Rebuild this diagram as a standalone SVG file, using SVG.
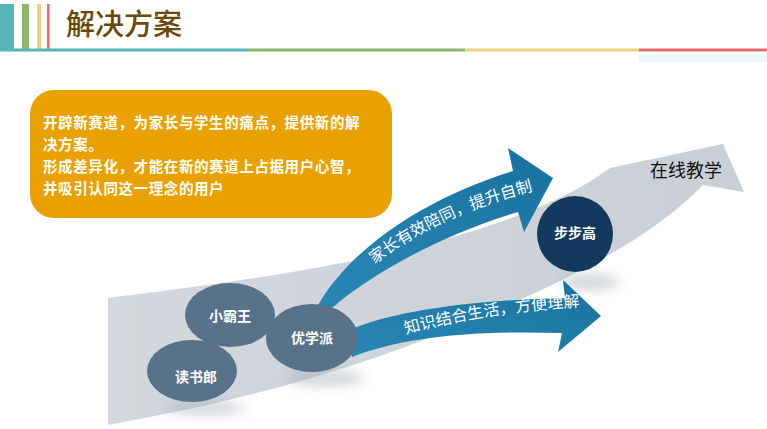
<svg xmlns="http://www.w3.org/2000/svg" width="767" height="429" viewBox="0 0 767 429">
<defs>
<style>
.cjk{font-family:"Noto Sans CJK SC","Noto Sans",sans-serif;}
.lbl{font-family:"Noto Sans CJK SC",sans-serif;font-size:14px;fill:#ffffff;font-weight:bold;text-anchor:middle;}
.box{font-family:"Noto Sans CJK SC",sans-serif;font-size:14.5px;fill:#ffffff;font-weight:bold;letter-spacing:0.6px;}
.atxt{font-family:"Noto Sans CJK SC",sans-serif;font-size:16px;fill:#ffffff;}
.node{fill:#587389;}
</style>
<linearGradient id="gband" x1="0" y1="0" x2="1" y2="0">
<stop offset="0" stop-color="#d3d8dd"/>
<stop offset="1" stop-color="#c9cfd6"/>
</linearGradient>
<linearGradient id="gblue" x1="0" y1="1" x2="1" y2="0">
<stop offset="0" stop-color="#2a87b4"/>
<stop offset="1" stop-color="#1872a0"/>
</linearGradient>
<filter id="blur" x="-50%" y="-50%" width="200%" height="200%">
<feGaussianBlur stdDeviation="6"/>
</filter>
<path id="tp1" d="M374,264 C 418,232 462,208 545,188"/>
<path id="tp2" d="M406,334 C 460,319 520,310 590,306"/>
</defs>
<rect width="767" height="429" fill="#ffffff"/>
<g id="header">
<rect x="0" y="4" width="14" height="46" fill="#58b4b7"/>
<rect x="22" y="4" width="7" height="46" fill="#8bb86a"/>
<rect x="37" y="4" width="4" height="46" fill="#f1cf7c"/>
<rect x="47" y="4" width="2.5" height="46" fill="#e86a6b"/>
<rect x="0" y="48.5" width="247" height="3" fill="#58b4b7"/>
<rect x="247" y="48.5" width="218" height="3" fill="#8bb86a"/>
<rect x="465" y="48.5" width="174" height="3" fill="#f1cf7c"/>
<rect x="639" y="48.5" width="128" height="3" fill="#e86a6b"/>
<rect x="639" y="55" width="128" height="7" fill="#eaf8f8"/>
<text x="66" y="35" class="cjk" font-size="29" font-weight="500" fill="#6b4806">解决方案</text>
</g>
<g id="summary">
<rect x="30" y="90" width="362" height="128" rx="24" fill="#e9a100"/>
<text class="box" x="43" y="128">开辟新赛道，为家长与学生的痛点，提供新的解</text>
<text class="box" x="43" y="150">决方案。</text>
<text class="box" x="43" y="172">形成差异化，才能在新的赛道上占据用户心智，</text>
<text class="box" x="43" y="194">并吸引认同这一理念的用户</text>
</g>
<g id="trend">
<path d="M108,298 C 250,280 500,250 610,168 L 723,144 L 744,192 L 703,185 C 650,240 560,285 450,330 C 330,378 220,405 108,425 Z" fill="url(#gband)"/>
<text x="650" y="177" class="cjk" font-size="18" fill="#111111">在线教学</text>
</g>
<g id="shadows" fill="#9aa3ad" opacity="0.45" filter="url(#blur)">
<ellipse cx="590" cy="282" rx="30" ry="8"/>
<ellipse cx="325" cy="378" rx="40" ry="8"/>
<ellipse cx="205" cy="408" rx="40" ry="7"/>
</g>
<g id="connectors">
<path d="M318,305 C 350,250 420,200 513,171 L 508,148 L 553,178 L 524,232 L 518,212 C 440,235 370,275 332,308 Z" fill="url(#gblue)"/>
<path d="M350,330 C 390,312 470,300 565,298 L 563,280 L 601,316 L 558,352 L 562,333 C 470,330 400,338 352,357 Z" fill="url(#gblue)"/>
<text class="atxt"><textPath href="#tp1">家长有效陪同，提升自制</textPath></text>
<text class="atxt" font-size="15.5"><textPath href="#tp2">知识结合生活，方便理解</textPath></text>
</g>
<g id="n-xiaobawang">
<ellipse class="node" cx="230" cy="315" rx="45" ry="32"/>
<text class="lbl" x="230" y="321">小霸王</text>
</g>
<g id="n-dushulang">
<ellipse class="node" cx="192" cy="371" rx="45" ry="31"/>
<text class="lbl" x="196" y="382">读书郎</text>
</g>
<g id="n-youxuepai">
<ellipse class="node" cx="312" cy="338" rx="46" ry="34"/>
<text class="lbl" x="312" y="343">优学派</text>
</g>
<g id="n-bubugao">
<ellipse cx="575" cy="234" rx="38" ry="38" fill="#133a5e"/>
<text class="lbl" x="575" y="238">步步高</text>
</g>
</svg>
